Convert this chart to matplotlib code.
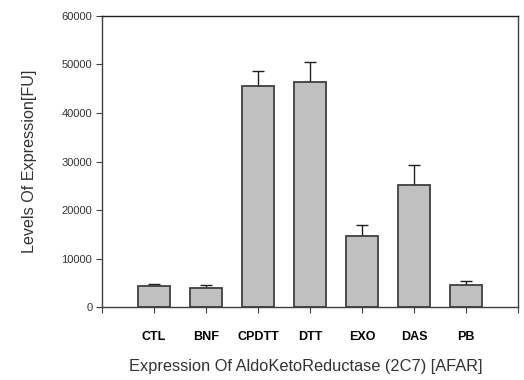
import matplotlib
matplotlib.use("Agg")
import matplotlib.pyplot as plt

# values
groups = ['CTL', 'BNF', 'CPDTT', 'DTT', 'EXO', 'DAS', 'PB']
levels = [4270, 3860, 45630, 46460, 14570, 25090, 4470]
errors = [400, 600, 3030, 4120, 2270, 4130, 830]
yticks = [0, 10000, 20000, 30000, 40000, 50000, 60000]

plt.rcParams['font.family'] = ['Liberation Sans', 'DejaVu Sans']

fig = plt.figure(figsize=(5.24, 3.8), dpi=100)
ax = fig.add_axes([0.1947, 0.1921, 0.7938, 0.7658])

pos = list(range(1, len(groups) + 1))
ax.bar(pos, levels, width=0.62, color='#c0c0c0', edgecolor='#404040',
       linewidth=1.3, zorder=2)
ax.errorbar(pos, levels, yerr=[[0] * len(errors), errors], fmt='none',
            ecolor='#202020', elinewidth=1.0, capsize=4, capthick=1.0, zorder=1)

ax.set_xlim(0, len(groups) + 1)
ax.set_ylim(0, 60000)
ax.set_yticks(yticks)
ax.set_yticklabels([str(v) for v in yticks], fontsize=8, color='#333333')
ax.set_xticks(range(0, len(groups) + 2))
ax.set_xticklabels([''] + groups + [''], fontsize=9, fontweight='bold',
                   family=['Liberation Sans Narrow', 'Liberation Sans', 'DejaVu Sans'])
ax.tick_params(axis='x', direction='out', length=4, pad=13, color='#404040')
ax.tick_params(axis='y', direction='out', length=4, pad=3, color='#404040')

for s in ax.spines.values():
    s.set_color('#404040')
    s.set_linewidth(1.0)
ax.spines['top'].set_color('#202020')

ax.set_ylabel('Levels Of Expression[FU]', fontsize=11.6, color='#333333', labelpad=18)
ax.set_xlabel('Expression Of AldoKetoReductase (2C7) [AFAR]', fontsize=11.8,
              color='#333333', labelpad=13)
ax.xaxis.set_label_coords(0.49, -0.18)

fig.savefig('out.png', dpi=100)
